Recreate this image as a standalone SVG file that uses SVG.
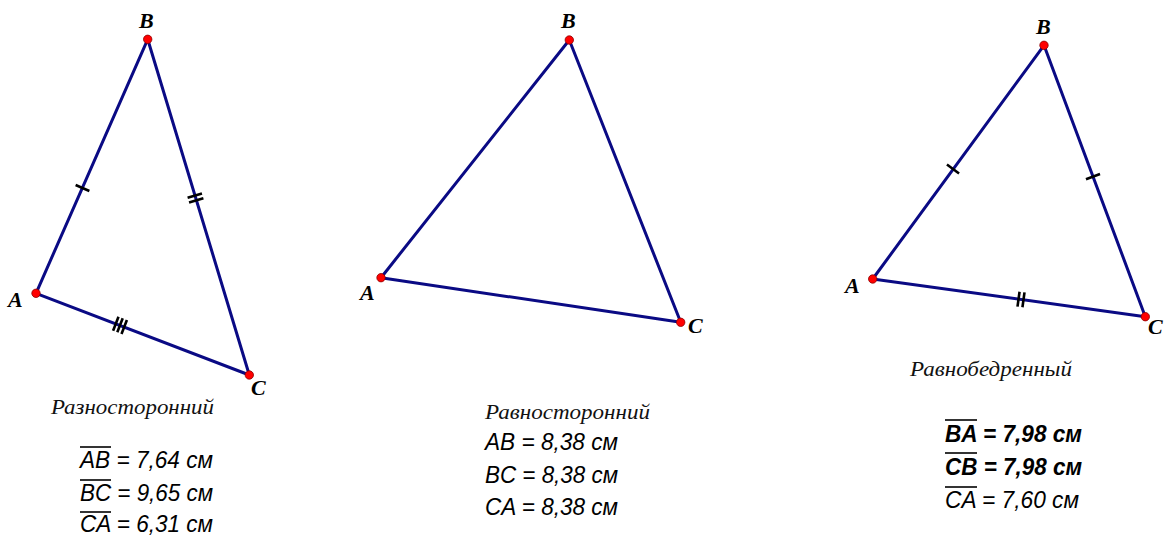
<svg xmlns="http://www.w3.org/2000/svg" xmlns:xlink="http://www.w3.org/1999/xlink" width="1164" height="537" viewBox="0 0 1164 537">
<style>
.side{stroke:#0a0a84;stroke-width:3;fill:none;stroke-linecap:round}
.pt{fill:#ff0000;stroke:#8b0000;stroke-width:0.8}
.tick{stroke:#000;stroke-width:2.6;fill:none}
.vl{font-family:"Liberation Serif",serif;font-style:italic;font-weight:bold;font-size:22px;fill:#000}
.cap{font-family:"Liberation Serif",serif;font-style:italic;font-size:22px;fill:#111}
.ms{font-family:"Liberation Sans",Arial,sans-serif;font-style:italic;font-size:23px;fill:#000}
.msb{font-family:"Liberation Sans",Arial,sans-serif;font-style:italic;font-weight:bold;font-size:23px;fill:#000}
.ov{stroke:#000;stroke-width:1.6}
</style>
<defs>
<path id="t1" class="tick" d="M0,-7.5V7.5"/>
<path id="t2" class="tick" d="M-2.5,-7.5V7.5M2.5,-7.5V7.5"/>
<path id="t3" class="tick" d="M-4.5,-7.5V7.5M0,-7.5V7.5M4.5,-7.5V7.5"/>
</defs>

<g id="connectors">
<!-- triangle 1 -->
<line class="side" x1="147.7" y1="39.3" x2="36" y2="293.3"/>
<line class="side" x1="147.7" y1="39.3" x2="249.3" y2="375"/>
<line class="side" x1="36" y1="293.3" x2="249.3" y2="375"/>
<use xlink:href="#t1" transform="translate(82.5,188) rotate(-66.1)"/>
<use xlink:href="#t2" transform="translate(195.5,198) rotate(73.2)"/>
<use xlink:href="#t3" transform="translate(120,325.3) rotate(21.1)"/>
<!-- triangle 2 -->
<line class="side" x1="569.3" y1="40" x2="381" y2="277.7"/>
<line class="side" x1="569.3" y1="40" x2="680.7" y2="322.3"/>
<line class="side" x1="381" y1="277.7" x2="680.7" y2="322.3"/>
<!-- triangle 3 -->
<line class="side" x1="1044" y1="45.3" x2="872.7" y2="279"/>
<line class="side" x1="1044" y1="45.3" x2="1145.3" y2="316.7"/>
<line class="side" x1="872.7" y1="279" x2="1145.3" y2="316.7"/>
<use xlink:href="#t1" transform="translate(953,169) rotate(-53.8)"/>
<use xlink:href="#t1" transform="translate(1093,176.6) rotate(69.5)"/>
<use xlink:href="#t2" transform="translate(1021,299.5) rotate(7.9)"/>
</g>

<g id="t1-B"><circle class="pt" cx="147.7" cy="39.3" r="4.2"/><text class="vl" x="139" y="28">B</text></g>
<g id="t1-A"><circle class="pt" cx="36" cy="293.3" r="4.2"/><text class="vl" x="8" y="307">A</text></g>
<g id="t1-C"><circle class="pt" cx="249.3" cy="375" r="4.2"/><text class="vl" x="251" y="395">C</text></g>

<g id="t2-B"><circle class="pt" cx="569.3" cy="40" r="4.2"/><text class="vl" x="561" y="28">B</text></g>
<g id="t2-A"><circle class="pt" cx="381" cy="277.7" r="4.2"/><text class="vl" x="360" y="300">A</text></g>
<g id="t2-C"><circle class="pt" cx="680.7" cy="322.3" r="4.2"/><text class="vl" x="688" y="333">C</text></g>

<g id="t3-B"><circle class="pt" cx="1044" cy="45.3" r="4.2"/><text class="vl" x="1036" y="34">B</text></g>
<g id="t3-A"><circle class="pt" cx="872.7" cy="279" r="4.2"/><text class="vl" x="845" y="293">A</text></g>
<g id="t3-C"><circle class="pt" cx="1145.3" cy="316.7" r="4.2"/><text class="vl" x="1148" y="334">C</text></g>

<g id="info1">
<text class="cap" x="51" y="414" textLength="163" lengthAdjust="spacingAndGlyphs">Разносторонний</text>
<text class="ms" x="80" y="468" textLength="133" lengthAdjust="spacingAndGlyphs">AB = 7,64 см</text>
<text class="ms" x="80" y="501" textLength="133" lengthAdjust="spacingAndGlyphs">BC = 9,65 см</text>
<text class="ms" x="80" y="532" textLength="133" lengthAdjust="spacingAndGlyphs">CA = 6,31 см</text>
<line class="ov" x1="80" y1="447" x2="111" y2="447"/>
<line class="ov" x1="80" y1="480" x2="111" y2="480"/>
<line class="ov" x1="80" y1="512" x2="111" y2="512"/>
</g>

<g id="info2">
<text class="cap" x="485" y="419" textLength="165" lengthAdjust="spacingAndGlyphs">Равносторонний</text>
<text class="ms" x="485" y="450" textLength="133" lengthAdjust="spacingAndGlyphs">AB = 8,38 см</text>
<text class="ms" x="485" y="483" textLength="133" lengthAdjust="spacingAndGlyphs">BC = 8,38 см</text>
<text class="ms" x="485" y="515" textLength="133" lengthAdjust="spacingAndGlyphs">CA = 8,38 см</text>
</g>

<g id="info3">
<text class="cap" x="910" y="376" textLength="162" lengthAdjust="spacingAndGlyphs">Равнобедренный</text>
<text class="msb" x="945" y="442" textLength="137" lengthAdjust="spacingAndGlyphs">BA = 7,98 см</text>
<text class="msb" x="945" y="475" textLength="137" lengthAdjust="spacingAndGlyphs">CB = 7,98 см</text>
<text class="ms" x="945" y="508" textLength="134" lengthAdjust="spacingAndGlyphs">CA = 7,60 см</text>
<line class="ov" x1="945" y1="420" x2="977" y2="420"/>
<line class="ov" x1="945" y1="453" x2="977" y2="453"/>
<line class="ov" x1="945" y1="487" x2="977" y2="487"/>
</g>
</svg>
